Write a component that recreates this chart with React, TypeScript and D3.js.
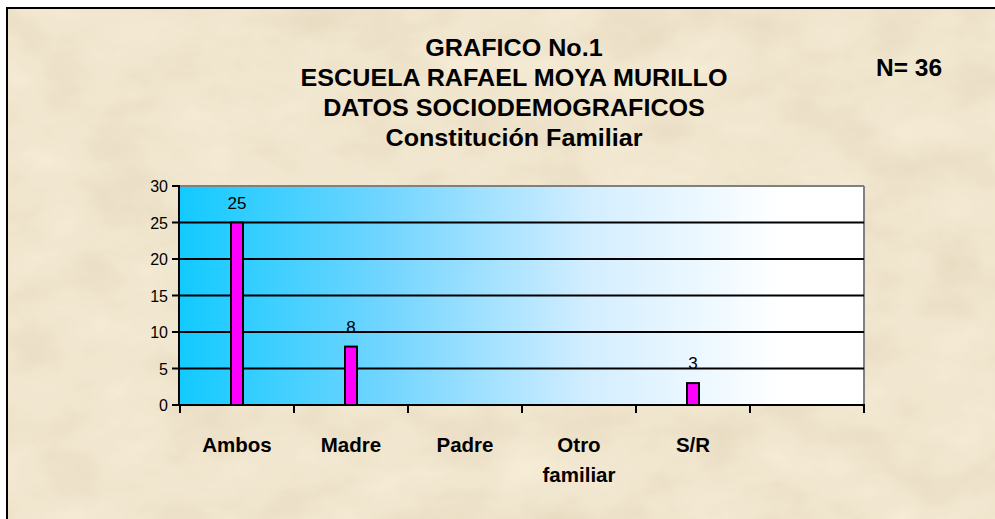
import React from "react";
import * as d3 from "d3";

const titleLines = ["GRAFICO No.1", "ESCUELA RAFAEL MOYA MURILLO", "DATOS SOCIODEMOGRAFICOS", "Constitución Familiar"];
const nLabel = "N= 36";
const categories = ["Ambos", "Madre", "Padre", "Otro familiar", "S/R", ""];
const values: (number | null)[] = [25, 8, null, null, 3, null];
const yTicks = [0, 5, 10, 15, 20, 25, 30];

const W = 995, H = 519;
const plot = { left: 180, right: 864, top: 186, bottom: 405 };

export default function App() {
  const x = d3.scaleBand<string>().domain(categories.map((c, i) => String(i))).range([plot.left, plot.right]);
  const y = d3.scaleLinear().domain([0, 30]).range([plot.bottom, plot.top]);
  const barW = 12;
  const font = "Arial, 'Liberation Sans', sans-serif";
  return (
    <svg width={W} height={H} style={{ position: "absolute", left: 0, top: 0 }} fontFamily={font}>
      <defs>
        <filter id="parch" x="0" y="0" width="100%" height="100%">
          <feTurbulence type="fractalNoise" baseFrequency="0.012 0.02" numOctaves={5} seed={7} result="n" />
          <feColorMatrix in="n" type="matrix"
            values="0 0 0 0.16 0.80  0 0 0 0.18 0.71  0 0 0 0.2 0.54  0 0 0 0 1" />
        </filter>
        <linearGradient id="bg" x1="0" x2="1" y1="0" y2="0">
          <stop offset="0" stopColor="#12caff" />
          <stop offset="0.3" stopColor="#72d5ff" />
          <stop offset="0.6" stopColor="#d3eeff" />
          <stop offset="0.88" stopColor="#ffffff" />
          <stop offset="1" stopColor="#ffffff" />
        </linearGradient>
      </defs>
      <rect x={0} y={0} width={W} height={H} fill="#ffffff" />
      <rect x={7} y={8} width={W - 7} height={H - 8} fill="#e8d5ad" />
      <rect x={7} y={8} width={W - 7} height={H - 8} filter="url(#parch)" opacity={0.9} />
      <line x1={6} x2={W} y1={8} y2={8} stroke="#000" strokeWidth={2} />
      <line x1={7} x2={7} y1={7} y2={H} stroke="#000" strokeWidth={2} />

      {titleLines.map((t, i) => (
        <text key={t} transform={`translate(514,${56 + i * 30}) scale(1.07,1)`} x={0} y={0}
          textAnchor="middle" fontWeight="bold" fontSize={23.5} fill="#000">{t}</text>
      ))}
      <text x={876} y={76} fontWeight="bold" fontSize={24.5} fill="#000">{nLabel}</text>

      <rect x={plot.left} y={plot.top} width={plot.right - plot.left} height={plot.bottom - plot.top} fill="url(#bg)" />
      <line x1={plot.left} x2={plot.right} y1={plot.top} y2={plot.top} stroke="#808080" strokeWidth={2} />
      <line x1={plot.right} x2={plot.right} y1={plot.top} y2={plot.bottom} stroke="#808080" strokeWidth={2} />
      {yTicks.filter(t => t > 0 && t < 30).map(t => (
        <line key={t} x1={plot.left} x2={plot.right} y1={y(t)} y2={y(t)} stroke="#000" strokeWidth={2} />
      ))}

      {values.map((v, i) => {
        if (v == null) return null;
        const cx = (x(String(i)) as number) + x.bandwidth() / 2;
        return (
          <g key={i}>
            <rect x={cx - barW / 2} y={y(v)} width={barW} height={plot.bottom - y(v)} fill="#ff00ff" stroke="#000" strokeWidth={2} />
            <text x={cx} y={y(v) - 14} textAnchor="middle" fontSize={17} fill="#000">{v}</text>
          </g>
        );
      })}

      <line x1={plot.left - 1} x2={plot.left - 1} y1={plot.top - 1} y2={plot.bottom + 1} stroke="#000" strokeWidth={2} />
      <line x1={plot.left - 1} x2={plot.right + 1} y1={plot.bottom} y2={plot.bottom} stroke="#000" strokeWidth={2} />
      {yTicks.map(t => (
        <g key={t}>
          <line x1={plot.left - 8} x2={plot.left} y1={y(t)} y2={y(t)} stroke="#000" strokeWidth={2} />
          <text x={plot.left - 12} y={y(t) + 6} textAnchor="end" fontSize={16} fill="#000">{t}</text>
        </g>
      ))}
      {d3.range(categories.length + 1).map(i => {
        const tx = plot.left + i * x.step();
        return <line key={i} x1={tx} x2={tx} y1={plot.bottom} y2={plot.bottom + 8} stroke="#000" strokeWidth={2} />;
      })}
      {categories.map((c, i) => {
        const cx = (x(String(i)) as number) + x.bandwidth() / 2;
        const words = c === "Otro familiar" ? ["Otro", "familiar"] : [c];
        return (
          <text key={i} x={cx} textAnchor="middle" fontWeight="bold" fontSize={20.5} fill="#000">
            {words.map((w, j) => (
              <tspan key={j} x={cx} y={452 + j * 30}>{w}</tspan>
            ))}
          </text>
        );
      })}
    </svg>
  );
}
